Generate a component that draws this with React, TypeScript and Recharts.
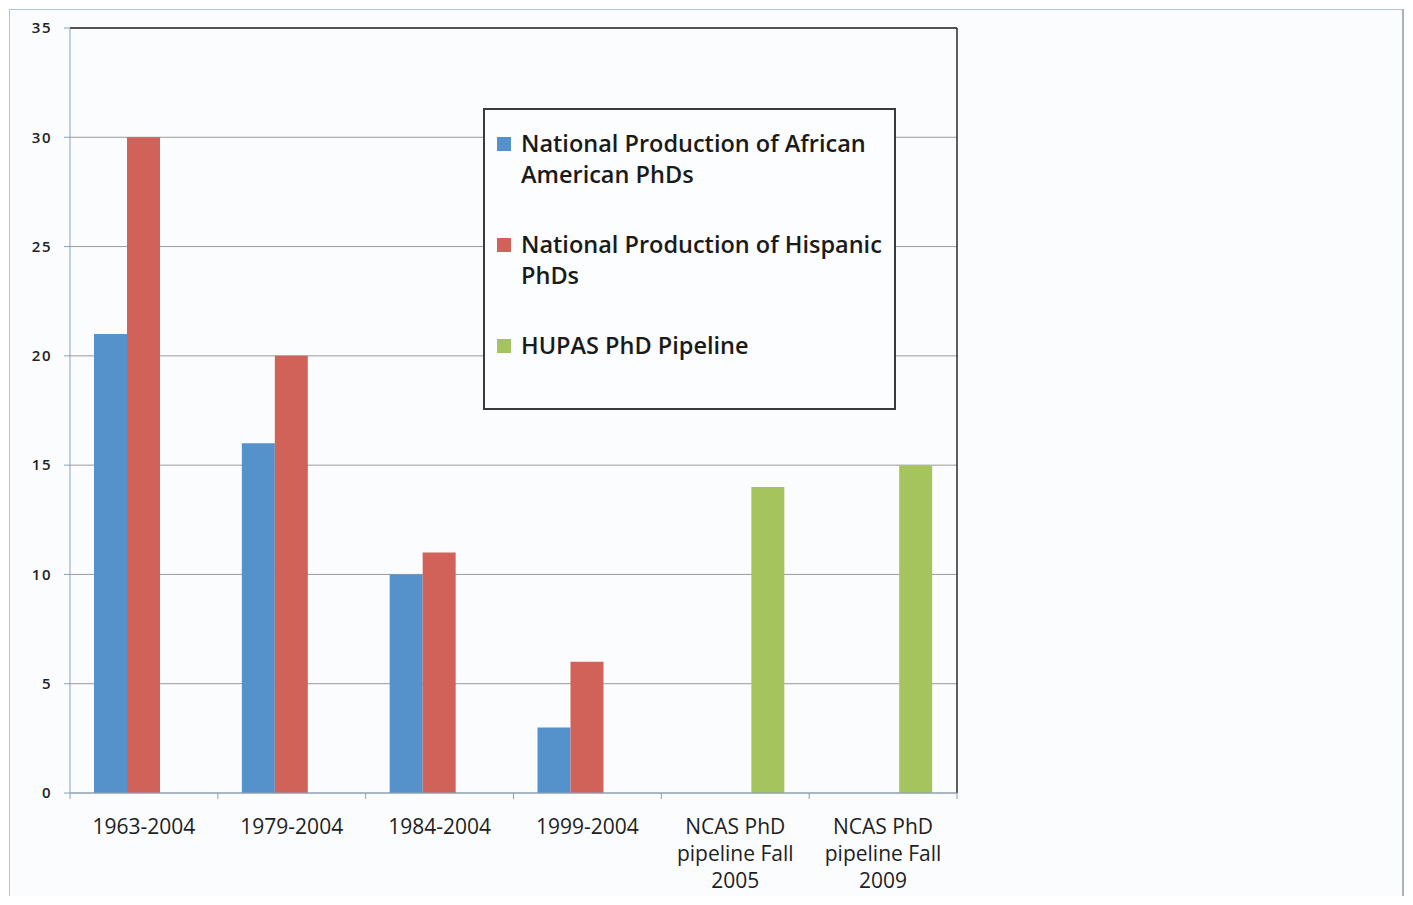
import React from "react"
import { BarChart, Bar, XAxis, YAxis, CartesianGrid, Legend } from "recharts"

const categories = [
  "1963-2004",
  "1979-2004",
  "1984-2004",
  "1999-2004",
  "NCAS PhD\npipeline Fall\n2005",
  "NCAS PhD\npipeline Fall\n2009",
]
const africanAmerican = [21, 16, 10, 3, null, null]
const hispanic = [30, 20, 11, 6, null, null]
const hupasPipeline = [null, null, null, null, 14, 15]
const yTicks = [0, 5, 10, 15, 20, 25, 30, 35]
const seriesNames = [
  "National Production of African American PhDs",
  "National Production of Hispanic PhDs",
  "HUPAS PhD Pipeline",
]

const data = categories.map((name, i) => ({
  name,
  africanAmerican: africanAmerican[i],
  hispanic: hispanic[i],
  hupas: hupasPipeline[i],
}))

const FONT = "'Open Sans', Lato, sans-serif"
const AXIS_COLOR = "#8aa2b8"

function CategoryTick(props: any) {
  const { x, y, payload, index } = props
  const half = payload.offset || 74
  const lines = String(payload.value).split("\n")
  return (
    <g>
      <line x1={x - half} x2={x - half} y1={y} y2={y + 6} stroke={AXIS_COLOR} />
      {index === categories.length - 1 && (
        <line x1={x + half} x2={x + half} y1={y} y2={y + 6} stroke={AXIS_COLOR} />
      )}
      <text x={x} y={y + 41} textAnchor="middle" fill="#1e1e1e" fontSize={21} fontFamily={FONT}>
        {lines.map((l, i) => (
          <tspan key={i} x={x} dy={i === 0 ? 0 : 27}>
            {l}
          </tspan>
        ))}
      </text>
    </g>
  )
}

function LegendBox({ payload }: any) {
  const items = [...(payload || [])].sort(
    (a: any, b: any) => seriesNames.indexOf(a.value) - seriesNames.indexOf(b.value)
  )
  return (
    <div
      style={{
        boxSizing: "border-box",
        width: 413,
        height: 302,
        border: "2px solid #3a3a3a",
        padding: "18px 0 0 12px",
        fontFamily: FONT,
        fontSize: 23.5,
        lineHeight: "31px",
        color: "#1a1a1a",
        background: "#fcfdfe",
      }}
    >
      {items.map((entry: any, i: number) => (
        <div key={i} style={{ display: "flex", alignItems: "flex-start", marginBottom: 39 }}>
          <span
            style={{
              display: "inline-block",
              width: 14,
              height: 14,
              marginTop: 9,
              marginRight: 10,
              flex: "none",
              background: entry.color,
            }}
          />
          <span style={{ width: 380, flex: "none", fontWeight: 600 }}>{entry.value}</span>
        </div>
      ))}
    </div>
  )
}

export default function App() {
  return (
    <div style={{ position: "relative", top: 1, left: 1, width: 1396, height: 888 }}>
      <div
        style={{
          position: "absolute",
          left: 0,
          top: 0,
          width: 1394,
          height: 887,
          border: "1px solid #b9c3ca",
          borderBottom: "none",
          borderRight: "none",
          background: "#fbfcfe",
        }}
      />
      <div style={{ position: "absolute", left: 1393, top: 0, width: 2, height: 888, background: "#a8b4bc" }} />
      <div style={{ position: "absolute", left: 1, top: 1 }}>
        <BarChart
          width={1392}
          height={887}
          data={data}
          margin={{ top: 18, right: 445, left: 0, bottom: 4 }}
          barCategoryGap={24}
          barGap={0}
        >
          <CartesianGrid vertical={false} stroke="#9a9a9a" />
          <CartesianGrid
            stroke="#2a2a2a"
            strokeWidth={1.5}
            horizontalCoordinatesGenerator={({ offset }: any) => [offset.top]}
            verticalCoordinatesGenerator={({ offset }: any) => [offset.left + offset.width]}
          />
          <XAxis
            dataKey="name"
            height={100}
            tickSize={0}
            tickMargin={0}
            interval={0}
            axisLine={{ stroke: AXIS_COLOR }}
            tick={<CategoryTick />}
          />
          <YAxis
            domain={[0, 35]}
            ticks={yTicks}
            width={60}
            tickSize={6}
            tickMargin={12}
            axisLine={{ stroke: AXIS_COLOR }}
            tickLine={{ stroke: AXIS_COLOR }}
            tick={{ fill: "#222", fontSize: 15, fontFamily: FONT, fontWeight: 600, letterSpacing: 1.5 }}
          />
          <Legend
            layout="horizontal"
            verticalAlign="middle"
            align="center"
            content={<LegendBox />}
            wrapperStyle={{ left: 473, top: 98, width: 413, height: 302 }}
          />
          <Bar dataKey="africanAmerican" name={seriesNames[0]} fill="#5592cc" isAnimationActive={false} />
          <Bar dataKey="hispanic" name={seriesNames[1]} fill="#d0625a" isAnimationActive={false} />
          <Bar dataKey="hupas" name={seriesNames[2]} fill="#a5c45e" isAnimationActive={false} />
        </BarChart>
      </div>
    </div>
  )
}
